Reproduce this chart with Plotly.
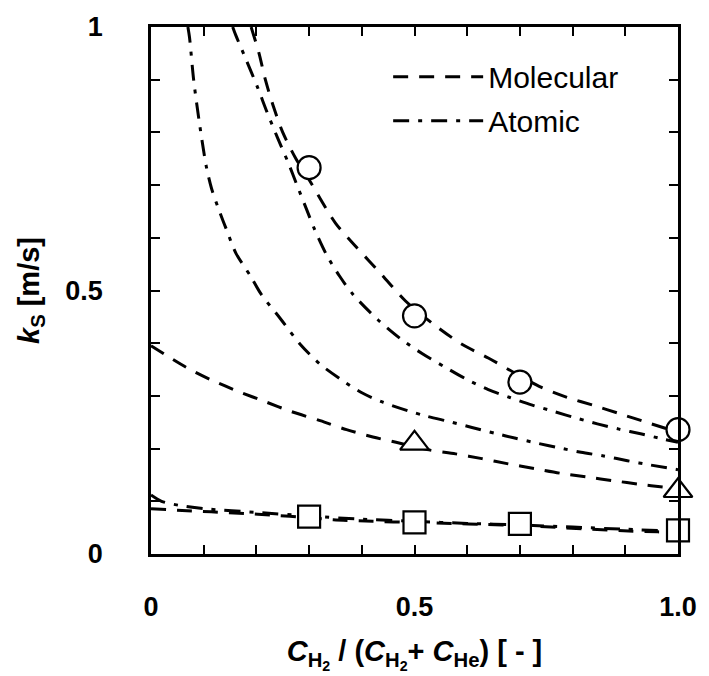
import plotly.graph_objects as go

# ---------------- data ----------------
# measured points
pts_x = [0.3, 0.5, 0.7, 1.0]
circle_y = [0.733, 0.452, 0.326, 0.236]
tri_x = [0.5, 1.0]
tri_y = [0.21, 0.12]
square_y = [0.071, 0.060, 0.057, 0.045]

# Molecular model curves (dashed)
mol_circ_x = [0.19, 0.205, 0.217, 0.232, 0.25, 0.275, 0.30, 0.35, 0.39, 0.437, 0.483,
              0.54, 0.59, 0.64, 0.70, 0.741, 0.79, 0.84, 0.89, 0.94, 1.0]
mol_circ_y = [1.0, 0.95, 0.90, 0.85, 0.80, 0.75, 0.71, 0.628, 0.582, 0.531, 0.48,
              0.433, 0.398, 0.372, 0.338, 0.316, 0.297, 0.282, 0.266, 0.25, 0.231]

mol_tri_x = [0.0, 0.067, 0.117, 0.167, 0.217, 0.267, 0.321, 0.371, 0.421, 0.465, 0.524,
             0.578, 0.628, 0.678, 0.728, 0.778, 0.828, 0.878, 0.929, 0.972, 1.0]
mol_tri_y = [0.395, 0.354, 0.329, 0.308, 0.289, 0.270, 0.253, 0.236, 0.222, 0.212, 0.198,
             0.19, 0.181, 0.171, 0.162, 0.153, 0.146, 0.139, 0.132, 0.127, 0.123]

mol_sq_x = [0.0, 0.05, 0.114, 0.177, 0.227, 0.3, 0.346, 0.421, 0.5, 0.571, 0.634,
            0.7, 0.759, 0.835, 0.897, 0.962, 1.0]
mol_sq_y = [0.086, 0.083, 0.080, 0.077, 0.074, 0.069, 0.065, 0.062, 0.060, 0.058, 0.056,
            0.054, 0.051, 0.047, 0.044, 0.042, 0.041]

# Atomic model curves (dash-dot)
at_circ_x = [0.155, 0.161, 0.18, 0.202, 0.22, 0.24, 0.261, 0.277, 0.296, 0.31, 0.333,
             0.358, 0.383, 0.43, 0.474, 0.515, 0.559, 0.596, 0.64, 0.681, 0.722, 0.766,
             0.81, 0.847, 0.888, 0.929, 0.972, 1.0]
at_circ_y = [1.0, 0.984, 0.939, 0.886, 0.839, 0.79, 0.741, 0.70, 0.652, 0.617, 0.568,
             0.527, 0.493, 0.445, 0.408, 0.38, 0.354, 0.333, 0.312, 0.297, 0.283, 0.270,
             0.257, 0.247, 0.237, 0.228, 0.218, 0.212]

at_tri_x = [0.07, 0.073, 0.081, 0.092, 0.105, 0.115, 0.13, 0.145, 0.161, 0.189, 0.209,
            0.246, 0.283, 0.321, 0.365, 0.402, 0.44, 0.487, 0.521, 0.571, 0.609, 0.653,
            0.69, 0.734, 0.772, 0.816, 0.859, 0.904, 0.947, 1.0]
at_tri_y = [1.0, 0.981, 0.899, 0.817, 0.735, 0.693, 0.65, 0.611, 0.571, 0.527, 0.493,
            0.446, 0.398, 0.36, 0.328, 0.305, 0.288, 0.272, 0.262, 0.25, 0.24, 0.229,
            0.22, 0.21, 0.202, 0.193, 0.186, 0.177, 0.169, 0.16]

at_sq_x = [0.0, 0.02, 0.055, 0.1, 0.2, 0.3, 0.4, 0.5, 0.6, 0.7, 0.8, 0.9, 1.0]
at_sq_y = [0.112, 0.100, 0.092, 0.086, 0.079, 0.072, 0.066, 0.062, 0.058, 0.055, 0.051,
           0.047, 0.043]

x_tickvals = [0, 0.5, 1.0]
x_ticktext = ["0", "0.5", "1.0"]
y_tickvals = [0, 0.5, 1]
y_ticktext = ["0", "0.5", "1"]

# ---------------- styles ----------------
FONT = "Liberation Sans, Arial, sans-serif"
MOL_DASH = "15px,11px"
AT_DASH = "16px,9px,4px,9px"
LW = 3

fig = go.Figure()

def curve(x, y, dash, name, show):
    fig.add_trace(go.Scatter(
        x=x, y=y, mode="lines", name=name, showlegend=show,
        line=dict(color="black", width=LW, dash=dash, shape="spline", smoothing=0.8),
        legendgroup=name, cliponaxis=True))

curve(mol_circ_x, mol_circ_y, MOL_DASH, "Molecular", True)
curve(mol_tri_x, mol_tri_y, MOL_DASH, "Molecular", False)
curve(mol_sq_x, mol_sq_y, MOL_DASH, "Molecular", False)
curve(at_circ_x, at_circ_y, AT_DASH, "Atomic", True)
curve(at_tri_x, at_tri_y, AT_DASH, "Atomic", False)
curve(at_sq_x, at_sq_y, AT_DASH, "Atomic", False)

mk = dict(color="white", line=dict(color="black", width=2.2))
fig.add_trace(go.Scatter(x=pts_x, y=circle_y, mode="markers", showlegend=False,
                         cliponaxis=False,
                         marker=dict(symbol="circle", size=23, **mk)))
fig.add_trace(go.Scatter(x=tri_x, y=tri_y, mode="markers", showlegend=False,
                         cliponaxis=False,
                         marker=dict(symbol="triangle-up", size=25, **mk)))
fig.add_trace(go.Scatter(x=pts_x, y=square_y, mode="markers", showlegend=False,
                         cliponaxis=False,
                         marker=dict(symbol="square", size=22, **mk)))

axis_common = dict(
    showgrid=False, zeroline=False, showline=True, linecolor="black", linewidth=2.5,
    mirror="ticks", ticks="inside", ticklen=9, tickwidth=2, tickcolor="black",
    tickfont=dict(family=FONT, size=27, color="black", weight="bold"),
    minor=dict(ticks="inside", dtick=0.1, tick0=0, ticklen=9, tickwidth=2,
               tickcolor="black", showgrid=False),
)

fig.update_xaxes(
    range=[0, 1], tickmode="array", tickvals=x_tickvals, ticktext=x_ticktext,
    ticklabelstandoff=27,
    title=dict(text="<i>C</i><sub>H<sub>2</sub></sub> / (<i>C</i><sub>H<sub>2</sub></sub>+ <i>C</i><sub>He</sub>) [ - ]",
               font=dict(family=FONT, size=29, color="black", weight="bold"), standoff=20),
    **axis_common)
fig.update_yaxes(
    range=[0, 1], tickmode="array", tickvals=y_tickvals, ticktext=y_ticktext,
    ticklabelstandoff=40,
    title=dict(text="<i>k</i><sub>S</sub> [m/s]",
               font=dict(family=FONT, size=29, color="black", weight="bold"), standoff=18),
    **axis_common)

fig.update_layout(
    width=709, height=676,
    margin=dict(l=151, r=26, t=25, b=122),
    plot_bgcolor="white", paper_bgcolor="white",
    legend=dict(x=0.45, y=0.955, xanchor="left", yanchor="top",
                font=dict(family=FONT, size=30, color="black"),
                bgcolor="rgba(0,0,0,0)", itemwidth=90, tracegroupgap=2),
)

fig.write_html("out.html")
